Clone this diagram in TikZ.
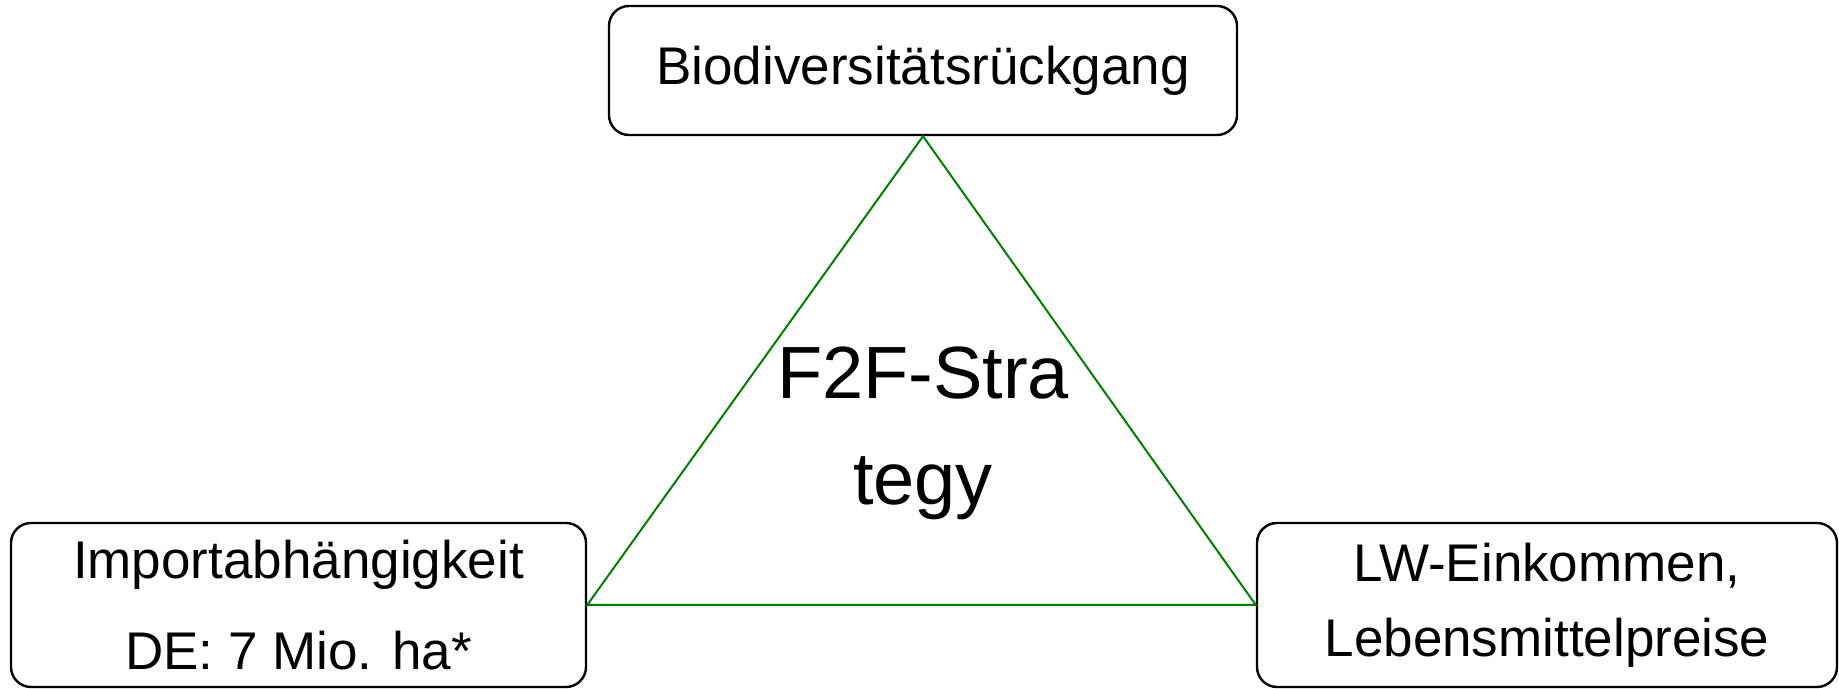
\documentclass[tikz,border=0pt]{standalone}
\usepackage{fontspec}
\setmainfont{Liberation Sans}
\usepackage{tikz}
\definecolor{trigreen}{rgb}{0.,0.5,0.}
\tikzset{
	topic/.style={draw=black,line width=1.2pt,rounded corners=10pt,inner sep=0pt,align=center,minimum height=82pt},
	edge/.style={color=trigreen,line width=1pt}
}

\begin{document}
\begin{tikzpicture}[x=1pt,y=1pt]
			\useasboundingbox (0.,0.) rectangle (919.5,344.5);
			\node[topic,minimum width=314pt,minimum height=64.5pt,font=\fontsize{26.5}{32}\selectfont] (bio) at (461.5,309.25) {Biodiversitätsrückgang};
			\node[topic,minimum width=287.5pt,font=\fontsize{26.5}{45.7}\selectfont] (imp) at (149.25,42.) {Importabhängigkeit\\DE: 7 Mio. ha*};
			\node[topic,minimum width=290pt,font=\fontsize{26.5}{37.5}\selectfont] (lw) at (773.5,42.) {LW-Einkommen,\\Lebensmittelpreise};
			\draw [edge] (bio.south)-- (imp.east)-- (lw.west)-- cycle;
			\node[align=center,font=\fontsize{37}{53}\selectfont] (f2f) at (461.5,128.) {F2F-Stra\\tegy};
			\end{tikzpicture}
\end{document}
